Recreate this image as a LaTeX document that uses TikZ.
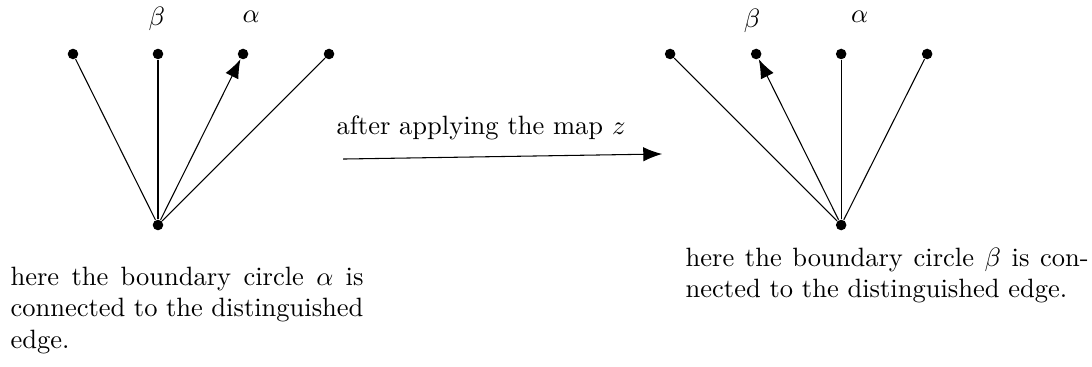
\documentclass[tikz,border=0pt]{standalone}
\usepackage{amsmath,amssymb}
\usepackage{tikz}
\usetikzlibrary{positioning, calc}
\usetikzlibrary{arrows.meta}
\tikzstyle{vertex} = [circle, fill=black, inner sep=0pt, minimum size=1.4mm]
\tikzstyle{edge} = [thin]
\tikzstyle{arrow} = [thin,-{Latex[length=2.5mm,width=1.9mm]}]
\tikzstyle{circname} = [inner sep=0pt, anchor=base]
\tikzstyle{caption} = [inner sep=0pt, align=justify, anchor=base west]

\begin{document}
\begin{tikzpicture}
            \useasboundingbox (0,0) rectangle (14.48,4.854);
            % before the map
            \node (root1) [vertex] at (2.095,1.870) {};
            \node (v11) [vertex] at (0.968,4.138) {};
            \node (v12) [vertex] at (2.095,4.138) {};
            \node (v13) [vertex] at (3.223,4.138) {};
            \node (v14) [vertex] at (4.363,4.138) {};
            \node (beta1) [circname] at (2.08,4.52) {$\beta$};
            \node (alpha1) [circname] at (3.33,4.56) {$\alpha$};

            % after the map
            \node (root2) [vertex] at (11.154,1.870) {};
            \node (v21) [vertex] at (8.886,4.138) {};
            \node (v22) [vertex] at (10.027,4.138) {};
            \node (v23) [vertex] at (11.154,4.138) {};
            \node (v24) [vertex] at (12.294,4.138) {};
            \node (beta2) [circname] at (9.973,4.49) {$\beta$};
            \node (alpha2) [circname] at (11.40,4.56) {$\alpha$};

            \draw [edge] (root1) -- (v11);
            \draw [edge] (root1) -- (v12);
            \draw [arrow] (root1) -- (v13);
            \draw [edge] (root1) -- (v14);
            \draw [edge] (root2) -- (v21);
            \draw [arrow] (root2) -- (v22);
            \draw [edge] (root2) -- (v23);
            \draw [edge] (root2) -- (v24);

            \coordinate (mapstart) at (4.549,2.745);
            \coordinate (mapend) at (8.780,2.812);
            \draw [arrow] (mapstart) -- (mapend);
            \node (maplabel) [circname] at (6.379,3.064) {after applying the map $z$};

            \node (text1) [caption, text width=4.68cm] at (0.133,1.074) {here the boundary circle $\alpha$ is\linebreak connected to the distinguished\linebreak edge.};
            \node (text2) [caption, text width=5.345cm] at (9.085,1.326) {here the boundary circle $\beta$ is con-\linebreak nected to the distinguished edge.};
        \end{tikzpicture}
\end{document}
